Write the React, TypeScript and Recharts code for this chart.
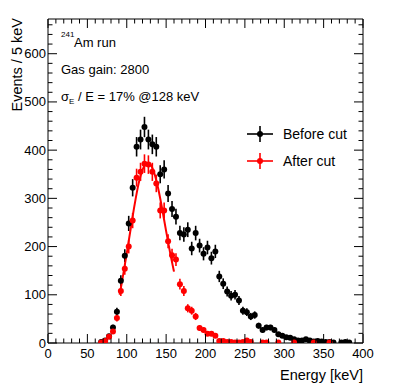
import React from 'react';
import { ComposedChart, Scatter, Line, XAxis, YAxis, ErrorBar } from 'recharts';

// Energy bin centres [keV] (5 keV bins)
const binCenters = [
  67.5, 72.5, 77.5, 82.5, 87.5, 92.5, 97.5, 102.5, 107.5, 112.5,
  117.5, 122.5, 127.5, 132.5, 137.5, 142.5, 147.5, 152.5, 157.5, 162.5,
  167.5, 172.5, 177.5, 182.5, 187.5, 192.5, 197.5, 202.5, 207.5, 212.5,
  217.5, 222.5, 227.5, 232.5, 237.5, 242.5, 247.5, 252.5, 257.5, 262.5,
  267.5, 272.5, 277.5, 282.5, 287.5, 292.5, 297.5, 302.5, 307.5, 312.5,
  317.5, 322.5, 327.5, 332.5, 337.5, 342.5, 347.5, 352.5, 357.5, 362.5,
  367.5, 372.5, 377.5, 382.5,
];

// Events / 5 keV before cut
const beforeCut: (number | null)[] = [
  2, 5, 14, 32, 65, 129, 181, 248, 322, 407,
  422, 448, 422, 412, 407, 350, 360, 310, 278, 262,
  228, 225, 235, 196, 228, 202, 185, 198, 176, 190,
  138, 123, 107, 98, 100, 88, 67, 64, 55, 58,
  36, 27, 32, 32, 27, 18, 15, 12, 11, 8,
  5, 5, 8, 5, 3, 4, 3, 2, 2, 1,
  null, 1, 2, 1,
];

// Events / 5 keV after cut
const afterCut: (number | null)[] = [
  1, 4, 13, 24, 52, 108, 154, 200, 254, 343,
  355, 372, 370, 355, 331, 275, 275, 211, 182, 173,
  122, 108, 72, 67, 55, 31, 27, 19, 19, 15,
  4, 4, 2, 2, 1, 1, 2, 5, 2, null,
  null, 1, 1, null, null, 1, null, null, null, 1,
  null, null, null, null, 1, null, null, null, 1, null,
  null, null, null, null,
];

// Gaussian fit curve
const fitEnergy = [91, 95, 100, 105, 110, 115, 120, 125, 130, 135, 140, 145, 150, 155, 160];
const fitValues = [100, 137, 186, 237, 287, 330, 359, 373, 370, 352, 320, 278, 232, 188, 148];

const xMajor = [0, 50, 100, 150, 200, 250, 300, 350, 400];
const yMajor = [0, 100, 200, 300, 400, 500, 600];

const X_MAX = 400;
const Y_MAX = 672;

const xTicksAll: number[] = [];
for (let v = 0; v <= X_MAX; v += 10) xTicksAll.push(v);
const yTicksAll: number[] = [];
for (let v = 0; v <= 660; v += 20) yTicksAll.push(v);

const toPoints = (vals: (number | null)[]) =>
  binCenters
    .map((e, i) => ({ E: e, v: vals[i], err: vals[i] != null ? Math.sqrt(vals[i] as number) : 0 }))
    .filter((d) => d.v != null);

const beforeData = toPoints(beforeCut);
const afterData = toPoints(afterCut);
const fitData = fitEnergy.map((e, i) => ({ E: e, v: fitValues[i] }));

const FONT = '"Liberation Sans", Arial, Helvetica, sans-serif';
const AX = '#000';

// plot frame (pixels)
const L = 48;
const R = 363;
const T = 19;
const B = 343;

const bottomTick = (p: any) => {
  const { x, payload } = p;
  const v = payload.value;
  const major = xMajor.includes(v);
  return (
    <g>
      <line x1={x} x2={x} y1={B} y2={B - (major ? 9 : 4.5)} stroke={AX} strokeWidth={1} />
      {major && (
        <text x={x} y={B + 15} textAnchor="middle" fontSize={13} fontFamily={FONT} fill="#000">
          {v}
        </text>
      )}
    </g>
  );
};

const topTick = (p: any) => {
  const { x, payload } = p;
  const major = xMajor.includes(payload.value);
  return <line x1={x} x2={x} y1={T} y2={T + (major ? 9 : 4.5)} stroke={AX} strokeWidth={1} />;
};

const leftTick = (p: any) => {
  const { y, payload } = p;
  const v = payload.value;
  const major = yMajor.includes(v);
  return (
    <g>
      <line x1={L} x2={L + (major ? 9 : 4.5)} y1={y} y2={y} stroke={AX} strokeWidth={1} />
      {major && (
        <text x={L - 2} y={y + 4.5} textAnchor="end" fontSize={13} fontFamily={FONT} fill="#000">
          {v}
        </text>
      )}
    </g>
  );
};

const rightTick = (p: any) => {
  const { y, payload } = p;
  const major = yMajor.includes(payload.value);
  return <line x1={R} x2={R - (major ? 9 : 4.5)} y1={y} y2={y} stroke={AX} strokeWidth={1} />;
};

const dotShape = (color: string) => (p: any) => <circle cx={p.cx} cy={p.cy} r={3} fill={color} />;

export default function App() {
  return (
    <div style={{ position: 'absolute', left: 0, top: 0, width: 403, height: 391, background: '#fff' }}>
      <ComposedChart width={403} height={391} margin={{ top: T - 1, right: 403 - R - 1, bottom: 391 - B - 1, left: L - 1 }}>
        <XAxis
          xAxisId="b"
          type="number"
          dataKey="E"
          domain={[0, X_MAX]}
          ticks={xTicksAll}
          interval={0}
          orientation="bottom"
          height={1}
          tickSize={0}
          tickMargin={0}
          tickLine={false}
          tick={bottomTick}
          axisLine={{ stroke: AX }}
          allowDataOverflow
        />
        <XAxis
          xAxisId="t"
          type="number"
          dataKey="E"
          domain={[0, X_MAX]}
          ticks={xTicksAll}
          interval={0}
          orientation="top"
          height={1}
          tickSize={0}
          tickMargin={0}
          tickLine={false}
          tick={topTick}
          axisLine={{ stroke: AX }}
          allowDataOverflow
        />
        <YAxis
          yAxisId="l"
          type="number"
          dataKey="v"
          domain={[0, Y_MAX]}
          ticks={yTicksAll}
          interval={0}
          orientation="left"
          width={1}
          tickSize={0}
          tickMargin={0}
          tickLine={false}
          tick={leftTick}
          axisLine={{ stroke: AX }}
          allowDataOverflow
        />
        <YAxis
          yAxisId="r"
          type="number"
          dataKey="v"
          domain={[0, Y_MAX]}
          ticks={yTicksAll}
          interval={0}
          orientation="right"
          width={1}
          tickSize={0}
          tickMargin={0}
          tickLine={false}
          tick={rightTick}
          axisLine={{ stroke: AX }}
          allowDataOverflow
        />
        <Scatter
          xAxisId="b"
          yAxisId="l"
          data={beforeData}
          dataKey="v"
          fill="#000"
          shape={dotShape('#000')}
          isAnimationActive={false}
        >
          <ErrorBar dataKey="err" direction="y" width={0} stroke="#000" strokeWidth={1.6} />
        </Scatter>
        <Scatter
          xAxisId="b"
          yAxisId="l"
          data={afterData}
          dataKey="v"
          fill="#ff0000"
          shape={dotShape('#ff0000')}
          isAnimationActive={false}
        >
          <ErrorBar dataKey="err" direction="y" width={0} stroke="#ff0000" strokeWidth={1.6} />
        </Scatter>
        <Line
          xAxisId="b"
          yAxisId="l"
          data={fitData}
          dataKey="v"
          type="monotone"
          stroke="#ff0000"
          strokeWidth={2}
          dot={false}
          activeDot={false}
          isAnimationActive={false}
        />
      </ComposedChart>
      <svg
        width={403}
        height={391}
        style={{ position: 'absolute', left: 0, top: 0, pointerEvents: 'none' }}
        fontFamily={FONT}
      >
        <text transform="translate(22,18) rotate(-90)" textAnchor="end" fontSize={14.5} fill="#000">
          Events / 5 keV
        </text>
        <text x={363} y={380} textAnchor="end" fontSize={14.5} fill="#000">
          Energy [keV]
        </text>
        <text x={61} y={37} fontSize={8} fill="#000">241</text>
        <text x={74} y={47} fontSize={13} fill="#000">Am run</text>
        <text x={61} y={74} fontSize={13} fill="#000">Gas gain: 2800</text>
        <text x={61} y={101} fontSize={13} fill="#000">
          σ<tspan fontSize={8} dy={3}>E</tspan>
          <tspan dy={-3}> / E = 17% @128 keV</tspan>
        </text>
        {/* legend */}
        <line x1={247} x2={273} y1={134} y2={134} stroke="#000" strokeWidth={1.6} />
        <line x1={260} x2={260} y1={126} y2={142} stroke="#000" strokeWidth={1.6} />
        <circle cx={260} cy={134} r={3} fill="#000" />
        <text x={283} y={139} fontSize={14} fill="#000">Before cut</text>
        <line x1={247} x2={273} y1={161} y2={161} stroke="#ff0000" strokeWidth={1.6} />
        <line x1={260} x2={260} y1={153} y2={169} stroke="#ff0000" strokeWidth={1.6} />
        <circle cx={260} cy={161} r={3} fill="#ff0000" />
        <text x={283} y={166} fontSize={14} fill="#000">After cut</text>
      </svg>
    </div>
  );
}
